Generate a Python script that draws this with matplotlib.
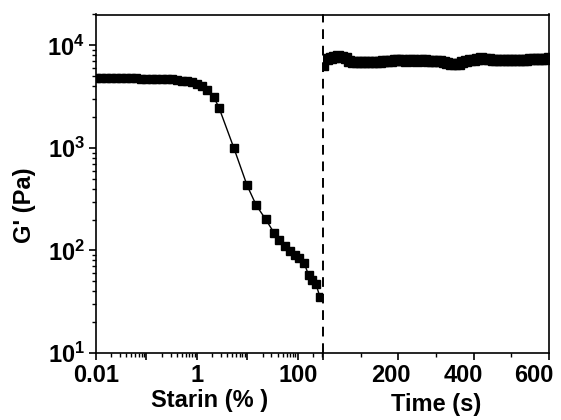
"""
Strain sweep (left, log strain) followed by time recovery (right, linear time)
on one shared log G' axis.
"""

import math
import matplotlib.pyplot as plt
from matplotlib.transforms import ScaledTranslation
from matplotlib.ticker import FixedLocator, FixedFormatter, LogLocator, FuncFormatter, NullFormatter

# strain sweep: strain (%) and G' (Pa)
strain = [0.01, 0.0126, 0.0158, 0.02, 0.0251, 0.0316, 0.0398, 0.0501, 0.0631, 0.0794,
          0.1, 0.126, 0.158, 0.2, 0.251, 0.316, 0.398, 0.501, 0.631, 0.794,
          1.0, 1.26, 1.58, 2.17, 2.75, 5.4, 9.9, 15, 23, 34,
          43, 55, 69, 87, 107, 133, 165, 194, 229, 276]
g_strain = [4850, 4830, 4820, 4800, 4800, 4790, 4780, 4770, 4760, 4750,
            4740, 4730, 4720, 4700, 4680, 4650, 4600, 4540, 4470, 4370,
            4230, 4050, 3650, 3130, 2460, 1000, 430, 276, 202, 148,
            126, 111, 99, 91, 85, 76, 57, 52, 47, 35]

# recovery: time (s) and G' (Pa)
time_s = [0, 10, 20, 30, 40, 50, 60, 70, 80, 90,
          100, 110, 120, 130, 140, 150, 160, 170, 180, 190,
          200, 210, 220, 230, 240, 250, 260, 270, 280, 290,
          300, 310, 320, 330, 340, 350, 360, 370, 380, 390,
          400, 410, 420, 430, 440, 450, 460, 470, 480, 490,
          500, 510, 520, 530, 540, 550, 560, 570, 580, 590, 600]
g_time = [6400, 7300, 7600, 7700, 7800, 7700, 7500, 7100, 6900, 6850,
          6850, 6850, 6850, 6900, 6900, 6950, 7000, 7050, 7100, 7150,
          7150, 7150, 7100, 7150, 7150, 7100, 7150, 7150, 7100, 7050,
          7050, 7000, 6900, 6800, 6650, 6550, 6650, 6900, 7050, 7150,
          7250, 7400, 7450, 7350, 7300, 7250, 7250, 7250, 7200, 7200,
          7250, 7250, 7200, 7200, 7250, 7300, 7300, 7350, 7350, 7400, 7450]

strain_ticks = [0.01, 0.1, 1, 10, 100]
strain_labels = ['0.01', '', '1', '', '100']
time_ticks = [0, 200, 400, 600]
time_labels = ['', '200', '400', '600']

plt.rcParams['font.family'] = 'Liberation Sans'
plt.rcParams['font.weight'] = 'bold'
plt.rcParams['mathtext.fontset'] = 'custom'
plt.rcParams['mathtext.rm'] = 'Liberation Sans:bold'
plt.rcParams['mathtext.bf'] = 'Liberation Sans:bold'

W, H = 561, 420
fig = plt.figure(figsize=(W / 100, H / 100), dpi=100)
left, right, bottom, top, mid = 96, 549, 353, 14.5, 323
ax1 = fig.add_axes([left / W, 1 - bottom / H, (mid - left) / W, (bottom - top) / H])
ax2 = fig.add_axes([mid / W, 1 - bottom / H, (right - mid) / W, (bottom - top) / H])

fs = 17
for ax in (ax1, ax2):
    ax.set_yscale('log')
    ax.set_ylim(10, 2e4)
    for s in ax.spines.values():
        s.set_linewidth(1.2)
    ax.tick_params(which='major', direction='out', length=5, width=1.2, labelsize=fs, pad=3)
    ax.tick_params(which='minor', direction='out', length=2.8, width=1.0)
    ax.tick_params(axis='both', which='both', top=False, right=False)

# left: strain sweep
ax1.plot(strain, g_strain, color='k', marker='s', ms=5.8, lw=1.0)
ax1.set_xscale('log')
ax1.set_xlim(0.01, 10 ** 2.5)
ax1.xaxis.set_major_locator(FixedLocator(strain_ticks))
ax1.xaxis.set_major_formatter(FixedFormatter(strain_labels))
ax1.xaxis.set_minor_locator(LogLocator(base=10, subs=range(2, 10), numticks=20))
ax1.xaxis.set_minor_formatter(NullFormatter())
ax1.yaxis.set_major_locator(LogLocator(base=10, numticks=10))
ax1.yaxis.set_major_formatter(FuncFormatter(lambda v, p: r'$\mathbf{10^{%d}}$' % round(math.log10(v))))
ax1.yaxis.set_minor_locator(LogLocator(base=10, subs=range(2, 10), numticks=20))
ax1.yaxis.set_minor_formatter(NullFormatter())
ax1.spines['right'].set_visible(False)

# right: recovery over time
ax2.plot(time_s, g_time, color='k', marker='s', ms=6.5, lw=1.0)
ax2.set_xlim(0, 600)
ax2.xaxis.set_major_locator(FixedLocator(time_ticks))
ax2.xaxis.set_major_formatter(FixedFormatter(time_labels))
ax2.xaxis.set_minor_locator(FixedLocator([100, 300, 500]))
ax2.tick_params(axis='y', which='both', left=False, labelleft=False)
ax2.spines['left'].set_visible(False)
ax2.axvline(0, color='k', ls=(0, (5, 3.5)), lw=1.4, clip_on=False, zorder=5)

# time labels sit a little left of their ticks in the original
shifts = [0, -7, -10, -15]
for lab, dx in zip(ax2.get_xticklabels(), shifts):
    lab.set_transform(lab.get_transform() + ScaledTranslation(dx / 100, 0, fig.dpi_scale_trans))

fig.text(209.5 / W, 1 - 401 / H, 'Starin (% )', ha='center', va='center', fontsize=fs, fontweight='bold')
fig.text(436 / W, 1 - 405 / H, 'Time (s)', ha='center', va='center', fontsize=fs, fontweight='bold')
fig.text(25 / W, 1 - 205 / H, "G' (Pa)", ha='center', va='center', rotation=90, fontsize=fs, fontweight='bold')

fig.savefig('out.png', dpi=100)
